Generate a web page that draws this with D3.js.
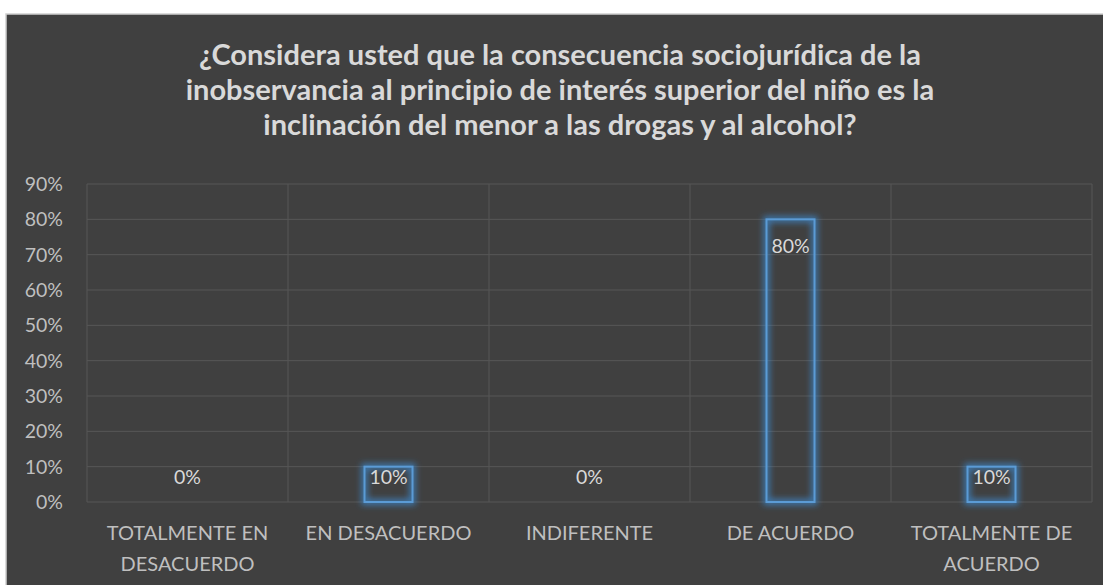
<!DOCTYPE html>
<html>
<head>
<meta charset="utf-8">
<script src="https://cdn.jsdelivr.net/npm/d3@7"></script>
<style>
  body { margin: 0; background: #fff; }
  svg { display: block; }
</style>
</head>
<body>
<svg width="1103" height="585"></svg>
<script>
const categories = [
  ["TOTALMENTE EN", "DESACUERDO"],
  ["EN DESACUERDO"],
  ["INDIFERENTE"],
  ["DE ACUERDO"],
  ["TOTALMENTE DE", "ACUERDO"]
];
const values = [0, 10, 0, 80, 10];
const yTicks = [0, 10, 20, 30, 40, 50, 60, 70, 80, 90];
const titleLines = [
  "¿Considera usted que la consecuencia sociojurídica de la",
  "inobservancia al principio de interés superior del niño es la",
  "inclinación del menor a las drogas y al alcohol?"
];

const svg = d3.select("svg");
const font = "Lato, 'Open Sans', sans-serif";

// chart area
svg.append("rect")
  .attr("x", 6).attr("y", 14)
  .attr("width", 1103).attr("height", 585)
  .attr("fill", "#404040")
  .attr("stroke", "#d0d0d0")
  .attr("stroke-width", 1.5);

const defs = svg.append("defs");
const glow = defs.append("filter").attr("id", "glow")
  .attr("x", "-50%").attr("y", "-50%").attr("width", "200%").attr("height", "200%");
glow.append("feGaussianBlur").attr("in", "SourceGraphic").attr("stdDeviation", 3).attr("result", "b");

const plot = { left: 87, right: 1092, top: 184, bottom: 502 };

const x = d3.scaleBand()
  .domain(d3.range(categories.length))
  .range([plot.left, plot.right])
  .paddingInner(0).paddingOuter(0);

const y = d3.scaleLinear()
  .domain([0, 90])
  .range([plot.bottom, plot.top]);

// horizontal gridlines
svg.append("g")
  .selectAll("line")
  .data(yTicks)
  .join("line")
  .attr("x1", plot.left).attr("x2", plot.right)
  .attr("y1", d => y(d)).attr("y2", d => y(d))
  .attr("stroke", "#575757")
  .attr("stroke-width", 1);

// vertical gridlines at category edges
svg.append("g")
  .selectAll("line")
  .data(d3.range(categories.length + 1))
  .join("line")
  .attr("x1", i => plot.left + i * x.bandwidth())
  .attr("x2", i => plot.left + i * x.bandwidth())
  .attr("y1", plot.top).attr("y2", plot.bottom)
  .attr("stroke", "#575757")
  .attr("stroke-width", 1);

// y tick labels
svg.append("g")
  .selectAll("text")
  .data(yTicks)
  .join("text")
  .attr("x", 63)
  .attr("y", d => y(d))
  .attr("dy", "0.36em")
  .attr("text-anchor", "end")
  .attr("font-family", font)
  .attr("font-size", 19.5)
  .attr("fill", "#bfbfbf")
  .text(d => d + "%");

// bars: soft blue halo under a crisp outline
const barW = 48;
const pts = values.map((v, i) => ({ v, i }));
const bars = pts.filter(d => d.v > 0);
const barX = d => x(d.i) + x.bandwidth() / 2 - barW / 2;

svg.append("g")
  .selectAll("rect")
  .data(bars)
  .join("rect")
  .attr("x", barX)
  .attr("y", d => y(d.v))
  .attr("width", barW)
  .attr("height", d => plot.bottom - y(d.v))
  .attr("fill", "none")
  .attr("stroke", "#3f8fd8")
  .attr("stroke-opacity", 0.75)
  .attr("stroke-width", 6)
  .attr("filter", "url(#glow)");

svg.append("g")
  .selectAll("rect")
  .data(bars)
  .join("rect")
  .attr("x", barX)
  .attr("y", d => y(d.v))
  .attr("width", barW)
  .attr("height", d => plot.bottom - y(d.v))
  .attr("fill", "none")
  .attr("stroke", "#5b9bd5")
  .attr("stroke-width", 2);

// data labels (inside end)
svg.append("g")
  .selectAll("text")
  .data(pts)
  .join("text")
  .attr("x", d => x(d.i) + x.bandwidth() / 2)
  .attr("y", d => {
    const h = plot.bottom - y(d.v);
    return d.v > 0 ? y(d.v) + Math.min(27, h * 0.3) : y(0) - 25;
  })
  .attr("dy", "0.36em")
  .attr("text-anchor", "middle")
  .attr("font-family", font)
  .attr("font-size", 19.5)
  .attr("fill", "#d9d9d9")
  .text(d => d.v + "%");

// category labels
const cat = svg.append("g")
  .selectAll("text")
  .data(categories)
  .join("text")
  .attr("text-anchor", "middle")
  .attr("font-family", font)
  .attr("font-size", 20)
  .attr("fill", "#bfbfbf");
cat.selectAll("tspan")
  .data((d, i) => d.map(t => ({ t, i })))
  .join("tspan")
  .attr("x", d => x(d.i) + x.bandwidth() / 2)
  .attr("y", (d, j) => 533 + j * 31)
  .attr("dy", "0.36em")
  .text(d => d.t);

// title
svg.append("g")
  .selectAll("text")
  .data(titleLines)
  .join("text")
  .attr("x", 560)
  .attr("y", (d, i) => 65 + i * 35)
  .attr("text-anchor", "middle")
  .attr("font-family", font)
  .attr("font-weight", "bold")
  .attr("font-size", 29)
  .attr("fill", "#d9d9d9")
  .text(d => d);
</script>
</body>
</html>
